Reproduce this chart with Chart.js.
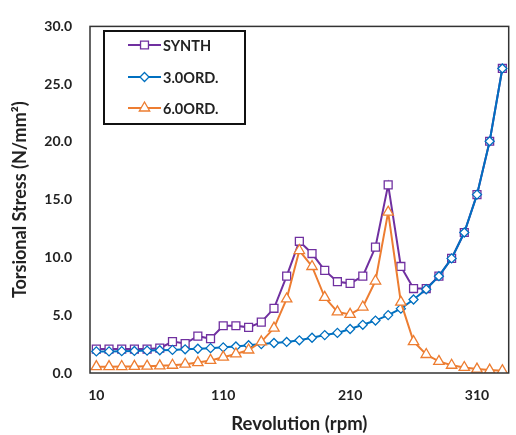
<!DOCTYPE html>
<html>
<head>
<meta charset="utf-8">
<script src="https://cdn.jsdelivr.net/npm/chart.js@4.4.0/dist/chart.umd.min.js"></script>
<style>
  html, body { margin: 0; padding: 0; background: #fff; }
  #wrap { width: 516px; height: 435px; position: relative; }
</style>
</head>
<body>
<div id="wrap"><canvas id="chart"></canvas></div>
<script>
const revolutions = [10, 20, 30, 40, 50, 60, 70, 80, 90, 100, 110, 120, 130, 140, 150, 160, 170,
  180, 190, 200, 210, 220, 230, 240, 250, 260, 270, 280, 290, 300, 310, 320, 330];

const synth = [2.07, 2.07, 2.07, 2.07, 2.07, 2.15, 2.72, 2.55, 3.19, 2.97, 4.09, 4.09, 3.95, 4.4, 5.6, 8.38, 11.4,
  10.34, 8.88, 7.9, 7.76, 8.38, 10.9, 16.28, 9.22, 7.31, 7.31, 8.38, 9.92, 12.16, 15.44, 20.06, 26.36];

const ord3 = [1.87, 1.87, 1.89, 1.91, 1.94, 1.97, 2.0, 2.05, 2.1, 2.15, 2.22, 2.3, 2.4, 2.5, 2.6, 2.69, 2.83,
  3.05, 3.28, 3.47, 3.81, 4.17, 4.54, 5.01, 5.57, 6.36, 7.25, 8.38, 9.92, 12.16, 15.44, 20.06, 26.36];

const ord6 = [0.55, 0.55, 0.56, 0.57, 0.59, 0.62, 0.67, 0.76, 0.9, 1.09, 1.37, 1.65, 1.99, 2.7, 3.89, 6.41, 10.6,
  9.22, 6.55, 5.29, 5.07, 5.71, 7.96, 13.92, 6.13, 2.72, 1.6, 1.0, 0.67, 0.48, 0.34, 0.25, 0.2];

const seriesNames = ["SYNTH", "3.0ORD.", "6.0ORD."];
const seriesColors = ["#7030A0", "#0070C0", "#ED7D31"];
const yTicks = [0, 5, 10, 15, 20, 25, 30];

const FONT = "Lato, 'DejaVu Sans', sans-serif";
const TEXT = "#222";

function markerPath(ctx, style, x, y, r) {
  ctx.beginPath();
  if (style === "rect") {
    const s = r * Math.SQRT1_2;
    ctx.rect(x - s, y - s, 2 * s, 2 * s);
  } else if (style === "rectRot") {
    ctx.moveTo(x, y - r);
    ctx.lineTo(x + r, y);
    ctx.lineTo(x, y + r);
    ctx.lineTo(x - r, y);
    ctx.closePath();
  } else {
    ctx.moveTo(x, y - r);
    ctx.lineTo(x + r * 0.866, y + r * 0.5);
    ctx.lineTo(x - r * 0.866, y + r * 0.5);
    ctx.closePath();
  }
}

// plot frame + boxed legend inside the plot
const framePlugin = {
  id: "frame",
  afterDraw(chart) {
    const ctx = chart.ctx;
    const a = chart.chartArea;
    ctx.save();
    ctx.strokeStyle = "#333";
    ctx.lineWidth = 1.5;
    ctx.strokeRect(a.left, a.top, a.right - a.left, a.bottom - a.top);

    // legend box
    ctx.strokeStyle = "#111";
    ctx.lineWidth = 2;
    ctx.fillStyle = "#fff";
    ctx.fillRect(104, 31, 141, 93);
    ctx.strokeRect(104, 31, 141, 93);

    const rows = [45, 77, 108];
    chart.data.datasets.forEach((ds, i) => {
      const y = rows[i];
      ctx.strokeStyle = ds.borderColor;
      ctx.lineWidth = 2;
      ctx.beginPath();
      ctx.moveTo(128, y);
      ctx.lineTo(161, y);
      ctx.stroke();
      markerPath(ctx, ds.pointStyle, 144.5, y, ds.pointRadius);
      ctx.fillStyle = "#fff";
      ctx.fill();
      ctx.lineWidth = 1.3;
      ctx.stroke();
      ctx.fillStyle = TEXT;
      ctx.font = "bold 14.5px " + FONT;
      ctx.textBaseline = "middle";
      ctx.textAlign = "left";
      ctx.fillText(ds.label, 163, y + 1);
    });
    ctx.restore();
  }
};

function makeSet(i, data, style, radius, order) {
  return {
    label: seriesNames[i],
    data: data,
    order: order,
    borderColor: seriesColors[i],
    backgroundColor: seriesColors[i],
    borderWidth: 2,
    pointStyle: style,
    pointRadius: radius,
    pointBorderWidth: 1.3,
    pointBackgroundColor: "#fff",
    pointBorderColor: seriesColors[i],
    tension: 0
  };
}

new Chart(document.getElementById("chart"), {
  type: "line",
  data: {
    labels: revolutions,
    datasets: [
      makeSet(0, synth, "rect", 5.6, 3),
      makeSet(1, ord3, "rectRot", 4.5, 2),
      makeSet(2, ord6, "triangle", 6, 1)
    ]
  },
  options: {
    responsive: true,
    maintainAspectRatio: false,
    animation: false,
    devicePixelRatio: 1,
    layout: { padding: { top: 17, right: 0, left: 0, bottom: 0 } },
    plugins: {
      legend: { display: false },
      tooltip: { enabled: false }
    },
    scales: {
      x: {
        type: "category",
        offset: true,
        grid: { display: false, drawTicks: false },
        border: { display: false },
        ticks: {
          autoSkip: false,
          maxRotation: 0,
          padding: 14,
          color: TEXT,
          font: { family: FONT, size: 14, weight: "bold" },
          callback: function (v, i) { return i % 10 === 0 ? revolutions[i] : null; }
        },
        title: {
          display: true,
          text: "Revolution (rpm)",
          color: TEXT,
          font: { family: FONT, size: 18.5, weight: "bold" },
          padding: { top: 0, bottom: 0 }
        },
        afterFit(scale) { scale.height = 62; }
      },
      y: {
        min: 0,
        max: 30,
        grid: { display: false, drawTicks: false },
        border: { display: false },
        afterBuildTicks(scale) { scale.ticks = yTicks.map(v => ({ value: v })); },
        ticks: {
          padding: 18,
          color: TEXT,
          font: { family: FONT, size: 14, weight: "bold" },
          callback: v => v.toFixed(1)
        },
        title: {
          display: true,
          text: "Torsional Stress (N/mm²)",
          color: TEXT,
          font: { family: FONT, size: 18, weight: "bold" },
          padding: { top: 9, bottom: 4 }
        },
        afterFit(scale) { scale.width = 90; }
      }
    }
  },
  plugins: [framePlugin]
});
</script>
</body>
</html>
